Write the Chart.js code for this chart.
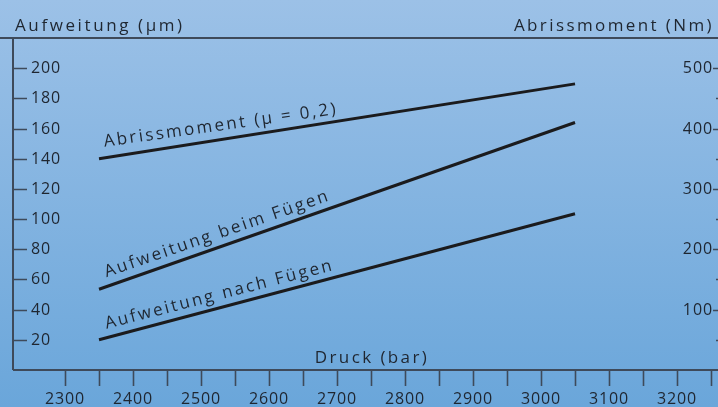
<!DOCTYPE html>
<html>
<head>
<meta charset="utf-8">
<script src="https://cdn.jsdelivr.net/npm/chart.js@4.4.1/dist/chart.umd.min.js"></script>
<style>
  html, body { margin: 0; padding: 0; overflow: hidden; background: #88b4e0; }
  #wrap { width: 722px; height: 407px; position: relative; }
</style>
</head>
<body>
<div id="wrap"><canvas id="grafico"></canvas></div>
<script>
// Datos
const druck = [2350, 3050];
const aufweitungBeim = [53.5, 164];
const aufweitungNach = [20, 103.5];
const abrissmoment = [350, 474];

const xTicks = [2300, 2350, 2400, 2450, 2500, 2550, 2600, 2650, 2700, 2750, 2800, 2850, 2900, 2950, 3000, 3050, 3100, 3150, 3200, 3250];
const xLabels = [2300, 2400, 2500, 2600, 2700, 2800, 2900, 3000, 3100, 3200];
const yTicks = [20, 40, 60, 80, 100, 120, 140, 160, 180, 200];
const y1Ticks = [50, 100, 150, 200, 250, 300, 350, 400, 450, 500];
const y1Labels = [100, 200, 300, 400, 500];

const fuente = '"Open Sans", "DejaVu Sans", sans-serif';
const colorTexto = '#1f2630';
const colorEje = '#3e4a5a';

// Fondo degradado
const fondo = {
  id: 'fondo',
  beforeDraw(chart) {
    const { ctx, width, height } = chart;
    const g = ctx.createLinearGradient(0, 0, 0, height);
    g.addColorStop(0, '#9cc1e7');
    g.addColorStop(1, '#6aa6da');
    ctx.save();
    ctx.fillStyle = g;
    ctx.fillRect(0, 0, width, height);
    ctx.restore();
  }
};

function texto(ctx, t, x, y, align, spacing, size, rot) {
  ctx.save();
  ctx.translate(x, y);
  if (rot) ctx.rotate(rot * Math.PI / 180);
  ctx.font = size + 'px ' + fuente;
  ctx.letterSpacing = spacing + 'px';
  ctx.fillStyle = colorTexto;
  ctx.textAlign = align;
  ctx.textBaseline = 'alphabetic';
  ctx.fillText(t, 0, 0);
  ctx.restore();
}

// Ejes, marcas y textos dibujados con las escalas de Chart.js
const ejes = {
  id: 'ejes',
  afterDraw(chart) {
    const { ctx, chartArea: a, width } = chart;
    const x = chart.scales.x, y = chart.scales.y, y1 = chart.scales.y1;
    ctx.save();
    ctx.strokeStyle = colorEje;
    ctx.lineWidth = 2;
    ctx.beginPath();
    ctx.moveTo(0, a.top); ctx.lineTo(width, a.top);
    ctx.moveTo(a.left, a.top); ctx.lineTo(a.left, a.bottom);
    ctx.moveTo(a.left, a.bottom); ctx.lineTo(width, a.bottom);
    ctx.stroke();

    ctx.lineWidth = 1.6;
    ctx.beginPath();
    xTicks.forEach(v => {
      const px = Math.round(x.getPixelForValue(v)) + 0.5;
      ctx.moveTo(px, a.bottom); ctx.lineTo(px, a.bottom + 16);
    });
    yTicks.forEach(v => {
      const py = Math.round(y.getPixelForValue(v)) + 0.5;
      ctx.moveTo(a.left, py); ctx.lineTo(a.left + 14, py);
    });
    y1Ticks.forEach(v => {
      const py = Math.round(y1.getPixelForValue(v)) + 0.5;
      const len = v % 100 === 0 ? 7 : 4;
      ctx.moveTo(a.right, py); ctx.lineTo(a.right - len, py);
    });
    ctx.stroke();
    ctx.restore();

    xLabels.forEach(v => texto(ctx, String(v), x.getPixelForValue(v), 404, 'center', 0.9, 16));
    yTicks.forEach(v => texto(ctx, String(v), a.left + 18, y.getPixelForValue(v) + 5, 'left', 0.9, 16));
    y1Labels.forEach(v => texto(ctx, String(v), a.right - 7, y1.getPixelForValue(v) + 5, 'right', 0.9, 16));

    texto(ctx, 'Aufweitung (µm)', 15, 31, 'left', 2.6, 17);
    texto(ctx, 'Abrissmoment (Nm)', 714, 31, 'right', 2.4, 17);
    texto(ctx, 'Druck (bar)', 372, 363, 'center', 2.4, 17);

    // Rotulos de las lineas
    texto(ctx, 'Abrissmoment (µ = 0,2)', x.getPixelForValue(2355) + 2, y1.getPixelForValue(abrissmoment[0]) - 12, 'left', 2.4, 17, -8);
    texto(ctx, 'Aufweitung beim Fügen', x.getPixelForValue(2355) + 4, y.getPixelForValue(aufweitungBeim[0]) - 12, 'left', 2.4, 17, -19);
    texto(ctx, 'Aufweitung nach Fügen', x.getPixelForValue(2355) + 4, y.getPixelForValue(aufweitungNach[0]) - 11, 'left', 2.4, 17, -14.5);
  }
};

const serie = (label, ys, axis) => ({
  label,
  data: druck.map((d, i) => ({ x: d, y: ys[i] })),
  yAxisID: axis,
  borderColor: '#1b1b1d',
  borderWidth: 3,
  pointRadius: 0,
  tension: 0
});

new Chart(document.getElementById('grafico'), {
  type: 'line',
  data: {
    datasets: [
      serie('Abrissmoment (µ = 0,2)', abrissmoment, 'y1'),
      serie('Aufweitung beim Fügen', aufweitungBeim, 'y'),
      serie('Aufweitung nach Fügen', aufweitungNach, 'y')
    ]
  },
  options: {
    responsive: true,
    maintainAspectRatio: false,
    animation: false,
    layout: { padding: { left: 13, top: 38, right: 2, bottom: 37 } },
    plugins: { legend: { display: false }, tooltip: { enabled: false } },
    scales: {
      x: { type: 'linear', min: 2223.5, max: 3263.2, display: false },
      y: { type: 'linear', min: 0, max: 220, display: false },
      y1: { type: 'linear', position: 'right', min: 0, max: 550, display: false }
    }
  },
  plugins: [fondo, ejes]
});
</script>
</body>
</html>
